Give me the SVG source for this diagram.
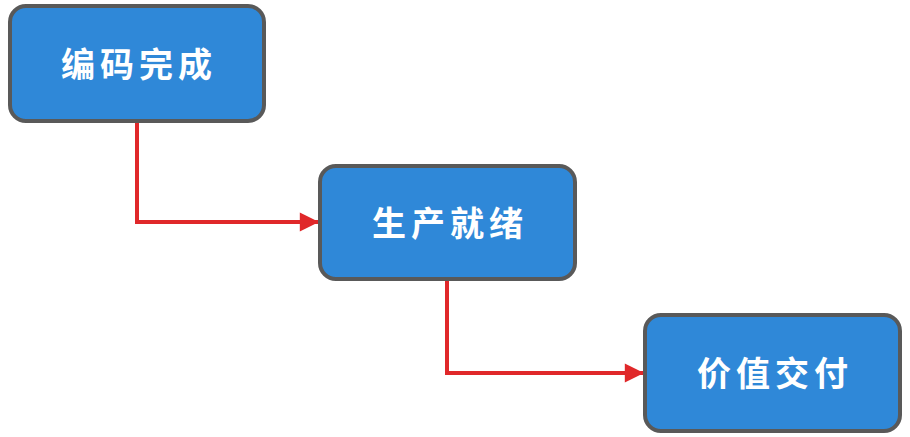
<svg xmlns="http://www.w3.org/2000/svg" width="910" height="437" viewBox="0 0 910 437">
<style>
.node{fill:#2F88D8;stroke:#595959;stroke-width:4}
.lbl{fill:#ffffff;font-family:"Noto Sans CJK SC","Noto Sans",sans-serif;font-size:34px;font-weight:bold;text-anchor:middle;dominant-baseline:central;letter-spacing:5px}
.conn{fill:none;stroke:#E0282A;stroke-width:4}
</style>
<defs>
<marker id="arr" viewBox="0 0 10 10" refX="10" refY="5" markerWidth="5.2" markerHeight="4.8" orient="auto" markerUnits="strokeWidth">
<path d="M0,0 L10,5 L0,10 z" fill="#E0282A"/>
</marker>
</defs>
<rect width="910" height="437" fill="#ffffff"/>
<g id="connectors">
<path class="conn" d="M137,123 V222 H319" marker-end="url(#arr)"/>
<path class="conn" d="M447,281 V373 H644" marker-end="url(#arr)"/>
</g>
<g id="n1">
<rect class="node" x="10" y="6" width="254" height="115" rx="16"/>
<text class="lbl" x="139" y="62">编码完成</text>
</g>
<g id="n2">
<rect class="node" x="320" y="166" width="255" height="113" rx="16"/>
<text class="lbl" x="450" y="221">生产就绪</text>
</g>
<g id="n3">
<rect class="node" x="645" y="315" width="255" height="116" rx="16"/>
<text class="lbl" x="775" y="371">价值交付</text>
</g>
</svg>
